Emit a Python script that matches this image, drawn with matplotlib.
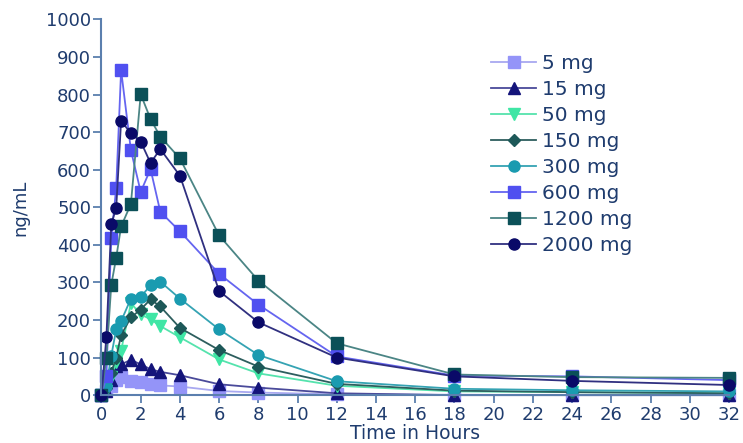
import matplotlib
matplotlib.use("Agg")
import matplotlib.pyplot as plt

plt.rcParams['font.family'] = ['DejaVu Sans']

hours = [0, 0.25, 0.5, 0.75, 1, 1.5, 2, 2.5, 3, 4, 6, 8, 12, 18, 24, 32]
labels = ["5 mg", "15 mg", "50 mg", "150 mg", "300 mg", "600 mg", "1200 mg", "2000 mg"]
mg5 = [0, 10, 25, 40, 47, 38, 34, 29, 26, 23, 11, 7, 2, 1, 0, 0]
mg15 = [0, 10, 40, 78, 82, 94, 82, 69, 62, 53, 29, 20, 5, 0, 0, 0]
mg50 = [0, 10, 48, 87, 118, 245, 215, 202, 184, 154, 95, 58, 25, 10, 8, 5]
mg150 = [0, 20, 60, 100, 160, 207, 228, 255, 236, 179, 120, 76, 30, 12, 8, 5]
mg300 = [0, 25, 105, 175, 197, 257, 262, 292, 302, 257, 175, 107, 37, 17, 13, 10]
mg600 = [0, 50, 419, 552, 865, 652, 541, 602, 488, 436, 323, 241, 103, 52, 50, 40]
mg1200 = [0, 100, 294, 366, 449, 509, 801, 735, 688, 630, 425, 305, 138, 55, 48, 46]
mg2000 = [0, 155, 456, 498, 730, 697, 675, 618, 655, 584, 277, 194, 100, 50, 38, 27]
series = [mg5, mg15, mg50, mg150, mg300, mg600, mg1200, mg2000]

marker_colors = ["#9494f8", "#14147a", "#3fe6a5", "#1d5858", "#1a9bb0", "#5050f0", "#0b5058", "#0a0a68"]
line_colors = ["#a8a8f0", "#4a4a9a", "#55e3ad", "#2d5e5e", "#35a3b3", "#6565f0", "#4b8585", "#303080"]
markers = ["s", "^", "v", "D", "o", "s", "s", "o"]
msizes = [8, 8.5, 8.5, 6.5, 8, 8, 8, 8]

fig = plt.figure(figsize=(7.43, 4.43), dpi=100)
ax = fig.add_axes([0.1366, 0.108, 0.8446, 0.848])

for lab, vals, mc, lc, mk, ms in zip(labels, series, marker_colors, line_colors, markers, msizes):
    ax.plot(hours, vals, color=lc, lw=1.3, marker=mk, markersize=ms,
            markerfacecolor=mc, markeredgecolor=mc, label=lab, clip_on=False)

spine_c = "#5b7fae"
text_c = "#1f3c6e"
ax.set_xlim(0, 32)
ax.set_ylim(0, 1000)
ax.set_xticks(range(0, 33, 2))
ax.set_yticks(range(0, 1001, 100))
for s in ["top", "right"]:
    ax.spines[s].set_visible(False)
for s in ["left", "bottom"]:
    ax.spines[s].set_color(spine_c)
    ax.spines[s].set_linewidth(1.5)
ax.tick_params(axis="both", colors=spine_c, labelcolor=text_c, labelsize=13,
               direction="out", length=6, width=1.3, pad=1.5)
ax.set_ylabel("ng/mL", fontsize=13, color=text_c, labelpad=12)
ax.set_xlabel("Time in Hours", fontsize=13.5, color=text_c, labelpad=0)

leg = ax.legend(loc="upper left", bbox_to_anchor=(0.608, 0.93), frameon=False,
                fontsize=14.5, handlelength=2.24, labelspacing=0.35, handletextpad=0.3,
                borderaxespad=0)
for t in leg.get_texts():
    t.set_color(text_c)

fig.savefig("out.png", dpi=100)
